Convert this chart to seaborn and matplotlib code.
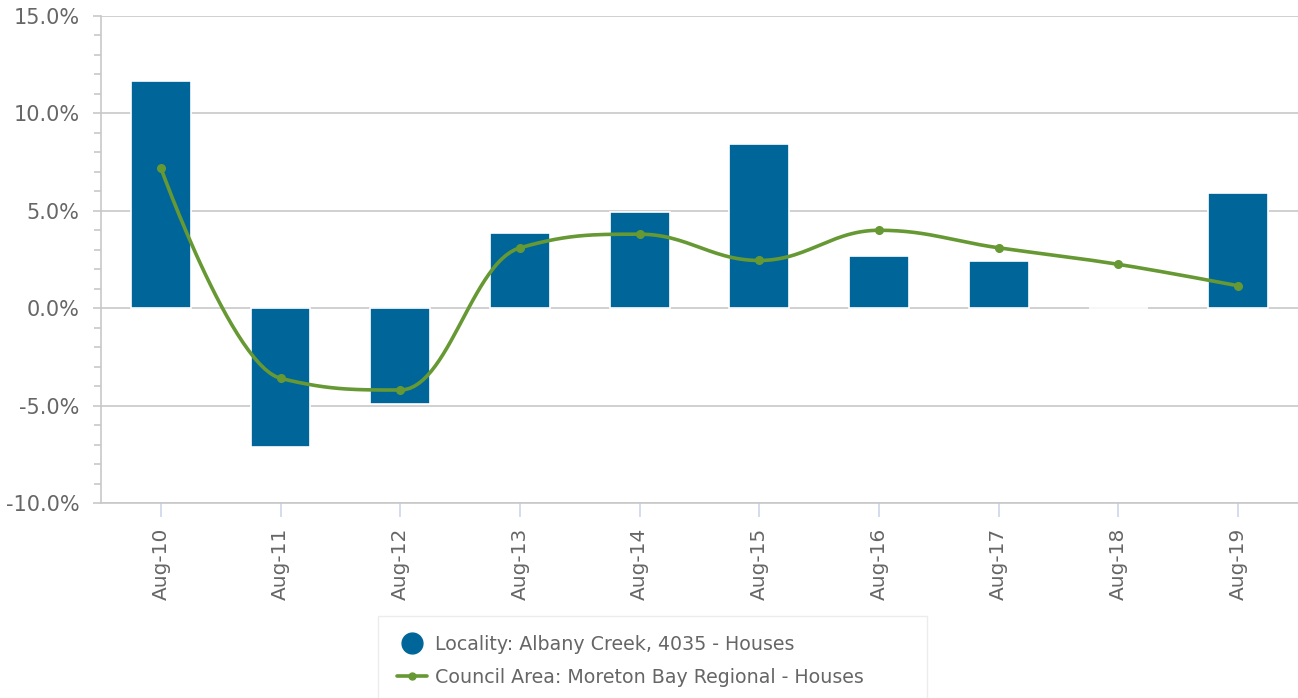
import numpy as np
import pandas as pd
import matplotlib
matplotlib.use("Agg")
import matplotlib.pyplot as plt
import matplotlib.ticker as ticker
from matplotlib.lines import Line2D
import seaborn as sns

# values (percent change)
periods = ["Aug-10", "Aug-11", "Aug-12", "Aug-13", "Aug-14",
           "Aug-15", "Aug-16", "Aug-17", "Aug-18", "Aug-19"]
locality = [11.65, -7.1, -4.9, 3.85, 4.95, 8.45, 2.7, 2.4, 0.0, 5.9]
council = [7.2, -3.6, -4.2, 3.1, 3.8, 2.45, 4.0, 3.1, 2.25, 1.15]

locality_name = "Locality: Albany Creek, 4035 - Houses"
council_name = "Council Area: Moreton Bay Regional - Houses"

bar_color = "#006699"
line_color = "#669933"
text_color = "#666666"
grid_color = "#c8c8c8"

df = pd.DataFrame({"period": periods, "locality": locality, "council": council})


def spline_path(xs, ys, smoothing=1.5, steps=30):
    # highcharts-like spline: cubic bezier segments between the points
    n = len(xs)
    left = [None] * n
    right = [None] * n
    for i in range(n):
        x, y = xs[i], ys[i]
        if 0 < i < n - 1:
            lx, ly = xs[i - 1], ys[i - 1]
            nx, ny = xs[i + 1], ys[i + 1]
            d = smoothing + 1
            lcx = (smoothing * x + lx) / d
            lcy = (smoothing * y + ly) / d
            rcx = (smoothing * x + nx) / d
            rcy = (smoothing * y + ny) / d
            if rcx != lcx:
                corr = (rcy - lcy) * (rcx - x) / (rcx - lcx) + y - rcy
                lcy += corr
                rcy += corr
            if lcy > ly and lcy > y:
                lcy = max(ly, y)
                rcy = 2 * y - lcy
            elif lcy < ly and lcy < y:
                lcy = min(ly, y)
                rcy = 2 * y - lcy
            if rcy > ny and rcy > y:
                rcy = max(ny, y)
                lcy = 2 * y - rcy
            elif rcy < ny and rcy < y:
                rcy = min(ny, y)
                lcy = 2 * y - rcy
            left[i] = (lcx, lcy)
            right[i] = (rcx, rcy)
        else:
            left[i] = (x, y)
            right[i] = (x, y)
    px, py = [xs[0]], [ys[0]]
    t = np.linspace(0, 1, steps)[1:]
    for i in range(1, n):
        p0 = np.array([xs[i - 1], ys[i - 1]])
        p1 = np.array(right[i - 1])
        p2 = np.array(left[i])
        p3 = np.array([xs[i], ys[i]])
        pts = ((1 - t) ** 3)[:, None] * p0 + (3 * (1 - t) ** 2 * t)[:, None] * p1 \
            + (3 * (1 - t) * t ** 2)[:, None] * p2 + (t ** 3)[:, None] * p3
        px.extend(pts[:, 0])
        py.extend(pts[:, 1])
    return px, py


sns.set_style("white")
plt.rcParams["font.family"] = ["DejaVu Sans"]

fig = plt.figure(figsize=(12.98, 6.98), dpi=100)
ax = fig.add_axes([101 / 1298, 1 - 503 / 698, 1197 / 1298, 487 / 698])

sns.barplot(data=df, x="period", y="locality", color=bar_color, width=0.5,
            edgecolor="white", linewidth=1.2, saturation=1, ax=ax, zorder=2)

xpos = np.arange(len(periods))
sx, sy = spline_path(list(xpos), council)
ax.plot(sx, sy, color=line_color, lw=2.6, zorder=4, solid_capstyle="round")
ax.plot(xpos, council, "o", color=line_color, ms=5.5, zorder=5)

ax.set_xlim(-0.5, len(periods) - 0.5)
ax.set_ylim(-10, 15)
ax.yaxis.set_major_locator(ticker.MultipleLocator(5))
ax.yaxis.set_minor_locator(ticker.MultipleLocator(1))
ax.yaxis.set_major_formatter(ticker.FuncFormatter(lambda v, p: f"{v:.1f}%"))
ax.grid(axis="y", which="major", color=grid_color, lw=1.2, zorder=0)
ax.set_axisbelow(True)

for side in ["top", "right"]:
    ax.spines[side].set_visible(False)
ax.spines["left"].set_color(grid_color)
ax.spines["left"].set_linewidth(1.2)
ax.spines["bottom"].set_color(grid_color)
ax.spines["bottom"].set_linewidth(1.2)

ax.tick_params(axis="y", which="major", left=True, length=6, width=1.2,
               color=grid_color, labelsize=15, labelcolor=text_color, pad=9.5)
ax.tick_params(axis="y", which="minor", left=True, length=5, width=1.2,
               color=grid_color)
ax.tick_params(axis="x", bottom=True, length=10, width=1.2, color="#ccd6eb",
               labelsize=14.5, labelcolor=text_color, rotation=90, pad=8)
ax.set_xlabel("")
ax.set_ylabel("")

handles = [
    Line2D([], [], marker="o", ls="none", color=bar_color, ms=15),
    Line2D([], [], marker="o", ls="-", color=line_color, lw=2.6, ms=5),
]
leg = fig.legend(handles, [locality_name, council_name], loc="upper left",
                 bbox_to_anchor=(378 / 1298, 1 - 616 / 698 - 0.01, 549 / 1298, 0.01),
                 mode="expand", frameon=True,
                 fancybox=False, edgecolor="#e8e8e8", fontsize=13.7,
                 labelcolor=text_color, handlelength=1.6, handletextpad=0.4,
                 borderpad=1.0, labelspacing=0.72, borderaxespad=0)
leg.get_frame().set_linewidth(1.0)

fig.savefig("out.png", dpi=100)
